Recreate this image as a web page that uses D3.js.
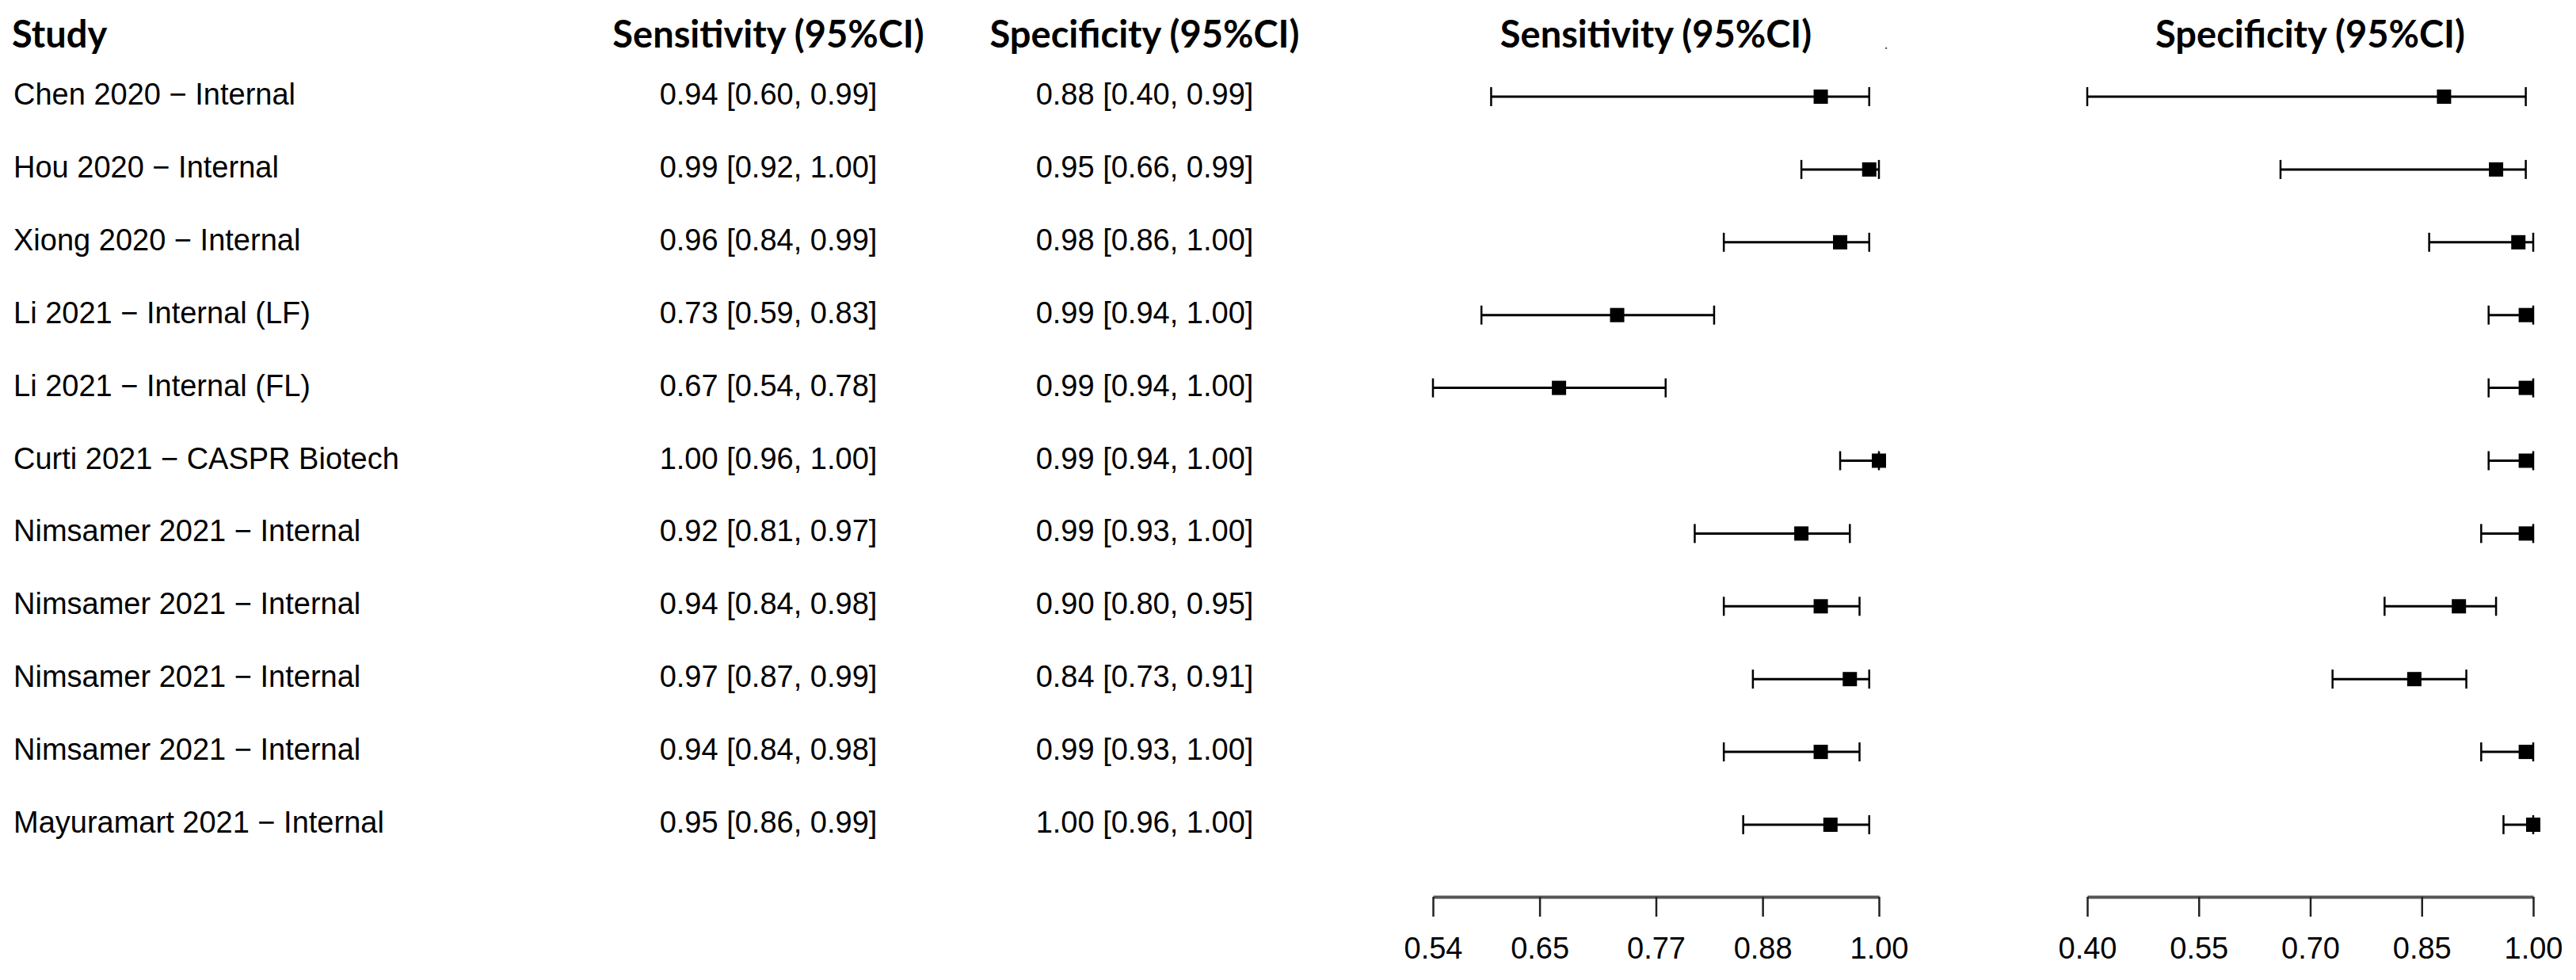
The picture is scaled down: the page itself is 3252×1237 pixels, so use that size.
<!DOCTYPE html>
<html>
<head>
<meta charset="utf-8">
<script src="https://cdn.jsdelivr.net/npm/d3@7"></script>
<style>
  body { margin: 0; background: #fff; }
  svg text { font-family: "Liberation Sans", Arial, sans-serif; }
  .hdr { font-family: Lato, "Open Sans", sans-serif; font-weight: 700; }
</style>
</head>
<body>
<svg id="forest" width="3252" height="1237"></svg>
<script>
const studies = [
  "Chen 2020 \u2212 Internal",
  "Hou 2020 \u2212 Internal",
  "Xiong 2020 \u2212 Internal",
  "Li 2021 \u2212 Internal (LF)",
  "Li 2021 \u2212 Internal (FL)",
  "Curti 2021 \u2212 CASPR Biotech",
  "Nimsamer 2021 \u2212 Internal",
  "Nimsamer 2021 \u2212 Internal",
  "Nimsamer 2021 \u2212 Internal",
  "Nimsamer 2021 \u2212 Internal",
  "Mayuramart 2021 \u2212 Internal"
];
const sensEst = [0.94, 0.99, 0.96, 0.73, 0.67, 1.00, 0.92, 0.94, 0.97, 0.94, 0.95];
const sensLo  = [0.60, 0.92, 0.84, 0.59, 0.54, 0.96, 0.81, 0.84, 0.87, 0.84, 0.86];
const sensHi  = [0.99, 1.00, 0.99, 0.83, 0.78, 1.00, 0.97, 0.98, 0.99, 0.98, 0.99];
const specEst = [0.88, 0.95, 0.98, 0.99, 0.99, 0.99, 0.99, 0.90, 0.84, 0.99, 1.00];
const specLo  = [0.40, 0.66, 0.86, 0.94, 0.94, 0.94, 0.93, 0.80, 0.73, 0.93, 0.96];
const specHi  = [0.99, 0.99, 1.00, 1.00, 1.00, 1.00, 1.00, 0.95, 0.91, 1.00, 1.00];
const sensTicks = [0.54, 0.65, 0.77, 0.88, 1.00];
const specTicks = [0.40, 0.55, 0.70, 0.85, 1.00];

const view = {
  rowTop: 122,
  rowStep: 91.9,
  axisY: 1132,
  headerY: 60,
  sensCol: 970,
  specCol: 1445,
  fontSize: 38,
  hdrSize: 47
};

const svg = d3.select("svg#forest");
const fmt = d3.format(".2f");
const ci = (e, l, h) => fmt(e) + " [" + fmt(l) + ", " + fmt(h) + "]";

const y = d3.scaleLinear().domain([0, 1]).range([view.rowTop, view.rowTop + view.rowStep]);
const xSens = d3.scaleLinear().domain([0.54, 1.00]).range([1809, 2372]);
const xSpec = d3.scaleLinear().domain([0.40, 1.00]).range([2635, 3198]);

// headers
const headers = [
  { t: "Study", x: 15, a: "start" },
  { t: "Sensitivity (95%CI)", x: view.sensCol, a: "middle" },
  { t: "Specificity (95%CI)", x: view.specCol, a: "middle" },
  { t: "Sensitivity (95%CI)", x: (xSens.range()[0] + xSens.range()[1]) / 2, a: "middle" },
  { t: "Specificity (95%CI)", x: (xSpec.range()[0] + xSpec.range()[1]) / 2, a: "middle" }
];
svg.append("g").selectAll("text")
  .data(headers)
  .join("text")
  .attr("class", "hdr")
  .attr("x", d => d.x)
  .attr("y", view.headerY)
  .attr("text-anchor", d => d.a)
  .style("font-size", view.hdrSize + "px")
  .text(d => d.t);

// stray dot next to the sensitivity header
svg.append("text")
  .attr("x", 2381).attr("y", 62)
  .attr("text-anchor", "middle")
  .style("font-size", "22px")
  .attr("fill", "#666")
  .text(".");

// text columns
const rows = studies.map((s, i) => ({
  i, s,
  sens: ci(sensEst[i], sensLo[i], sensHi[i]),
  spec: ci(specEst[i], specLo[i], specHi[i])
}));

const txt = svg.append("g").style("font-size", view.fontSize + "px").attr("fill", "#000");
txt.selectAll("text.study").data(rows).join("text")
  .attr("class", "study")
  .attr("x", 17).attr("y", d => y(d.i) + 10)
  .text(d => d.s);
txt.selectAll("text.sens").data(rows).join("text")
  .attr("class", "sens")
  .attr("x", view.sensCol).attr("y", d => y(d.i) + 10)
  .attr("text-anchor", "middle")
  .text(d => d.sens);
txt.selectAll("text.spec").data(rows).join("text")
  .attr("class", "spec")
  .attr("x", view.specCol).attr("y", d => y(d.i) + 10)
  .attr("text-anchor", "middle")
  .text(d => d.spec);

// forest panel: CI line, caps, box
function drawPanel(x, est, lo, hi, ticks) {
  const g = svg.append("g");
  const data = est.map((e, i) => ({ i, e, l: lo[i], h: hi[i] }));
  const capH = 12;

  g.selectAll("line.ci").data(data).join("line")
    .attr("x1", d => x(d.l)).attr("x2", d => x(d.h))
    .attr("y1", d => y(d.i)).attr("y2", d => y(d.i))
    .attr("stroke", "#000").attr("stroke-width", 3);

  g.selectAll("line.capL").data(data).join("line")
    .attr("x1", d => x(d.l)).attr("x2", d => x(d.l))
    .attr("y1", d => y(d.i) - capH).attr("y2", d => y(d.i) + capH)
    .attr("stroke", "#000").attr("stroke-width", 2.5);

  g.selectAll("line.capR").data(data).join("line")
    .attr("x1", d => x(d.h)).attr("x2", d => x(d.h))
    .attr("y1", d => y(d.i) - capH).attr("y2", d => y(d.i) + capH)
    .attr("stroke", "#000").attr("stroke-width", 2.5);

  const box = 18;
  g.selectAll("rect").data(data).join("rect")
    .attr("x", d => x(d.e) - box / 2).attr("y", d => y(d.i) - box / 2)
    .attr("width", box).attr("height", box)
    .attr("fill", "#000");

  // bottom axis
  const axis = svg.append("g")
    .attr("transform", `translate(0,${view.axisY})`)
    .call(d3.axisBottom(x).tickValues(ticks).tickFormat(fmt).tickSize(25).tickSizeOuter(0).tickPadding(26));
  axis.select(".domain").attr("stroke", "#555").attr("stroke-width", 4);
  axis.selectAll(".tick line").attr("stroke", "#222").attr("stroke-width", 2.5);
  axis.selectAll(".tick text")
    .attr("fill", "#000")
    .style("font-size", view.fontSize + "px")
    .style("font-family", "'Liberation Sans', Arial, sans-serif");
}

drawPanel(xSens, sensEst, sensLo, sensHi, sensTicks);
drawPanel(xSpec, specEst, specLo, specHi, specTicks);
</script>
</body>
</html>
